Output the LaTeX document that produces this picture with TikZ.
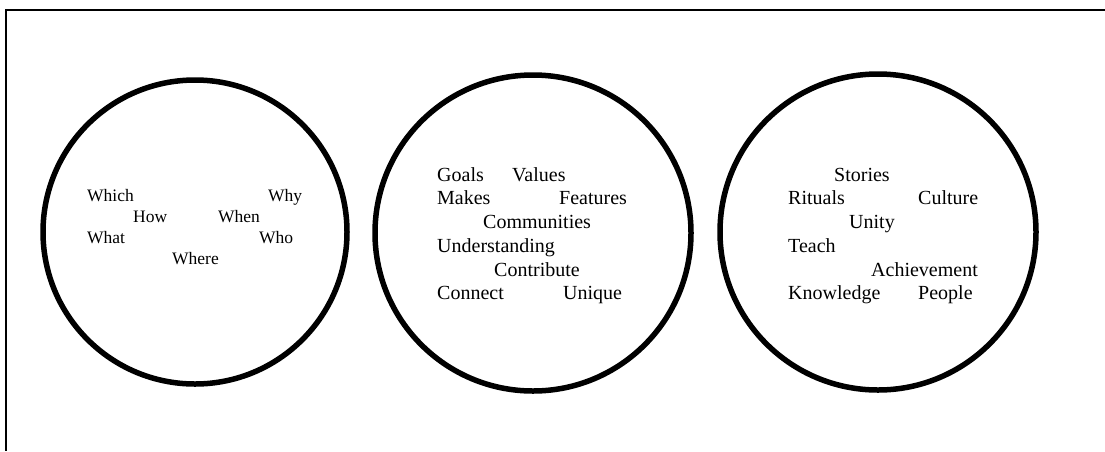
\documentclass[tikz,border=0pt]{standalone}
\usepackage{fontspec}
\setmainfont{Liberation Serif}
\usepackage{tikz}

\begin{document}
\begin{tikzpicture}[x=1pt, y=-1pt,
    ring/.style={line width=5.5pt},
    small/.style={anchor=base west, inner sep=0pt, font=\fontsize{17.5}{21}\selectfont},
    word/.style={anchor=base west, inner sep=0pt, font=\fontsize{20}{24}\selectfont}]
            \useasboundingbox (0,0) rectangle (1105,451);

            % Frame
            \coordinate (fr1) at (1105,10);
            \coordinate (fr2) at (6,10);
            \coordinate (fr3) at (6,451);
            \draw[line width=2pt] (fr1) -- (fr2) -- (fr3);

            % Circles
            \draw[ring] (195,232) circle (152);
            \draw[ring] (533,233) circle (158);
            \draw[ring] (878,232) circle (158);

            % Questions
            \node[small] (which) at (87,201) {Which};
            \node[small] (why) at (268,201) {Why};
            \node[small] (how) at (133,222) {How};
            \node[small] (when) at (218,222) {When};
            \node[small] (what) at (87,243) {What};
            \node[small] (who) at (259,243) {Who};
            \node[small] (where) at (172,264) {Where};

            % Middle words
            \node[word] (goals) at (437,181) {Goals};
            \node[word] (values) at (512,181) {Values};
            \node[word] (makes) at (437,204) {Makes};
            \node[word] (features) at (559,204) {Features};
            \node[word] (communities) at (483,228) {Communities};
            \node[word] (understanding) at (437,252) {Understanding};
            \node[word] (contribute) at (494,276) {Contribute};
            \node[word] (connect) at (437,299) {Connect};
            \node[word] (unique) at (563,299) {Unique};

            % Right words
            \node[word] (stories) at (834,181) {Stories};
            \node[word] (rituals) at (788,204) {Rituals};
            \node[word] (culture) at (918,204) {Culture};
            \node[word] (unity) at (849,228) {Unity};
            \node[word] (teach) at (788,252) {Teach};
            \node[word] (achievement) at (871,276) {Achievement};
            \node[word] (knowledge) at (788,299) {Knowledge};
            \node[word] (people) at (918,299) {People};
        \end{tikzpicture}
\end{document}
